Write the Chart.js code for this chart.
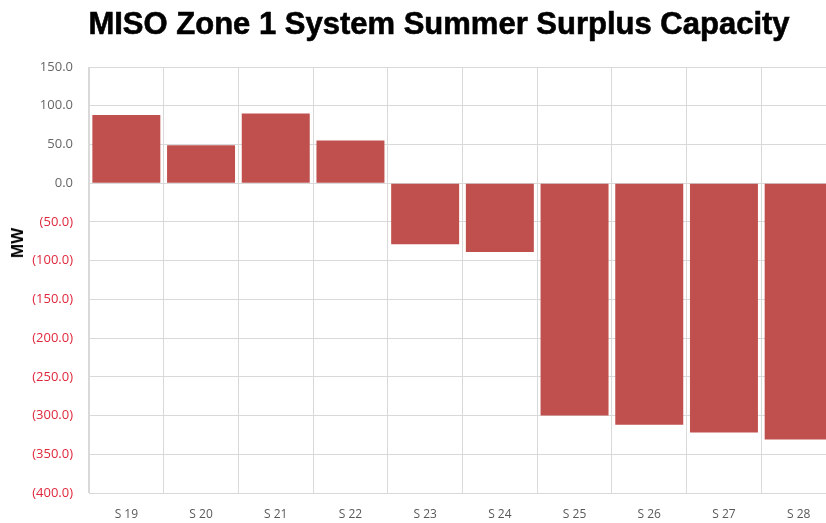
<!DOCTYPE html>
<html>
<head>
<meta charset="utf-8">
<script src="https://cdn.jsdelivr.net/npm/chart.js@4/dist/chart.umd.min.js"></script>
<style>
  html, body { margin: 0; padding: 0; background: #fff; overflow: hidden; }
  #wrap { position: relative; width: 880px; height: 523px; }
  #title {
    position: absolute; left: 0; top: 6px; width: 878px; text-align: center;
    font-family: "Liberation Sans", Arial, sans-serif; font-weight: bold; font-size: 31px; color: #000;
    -webkit-text-stroke: 0.6px #000;
  }
  #ylab {
    position: absolute; left: 18px; top: 243px; transform: translate(-50%, -50%) rotate(-90deg);
    font-family: "Liberation Sans", Arial, sans-serif; font-weight: bold; font-size: 17px; color: #000;
  }
</style>
</head>
<body>
<div id="wrap">
  <div id="title">MISO Zone 1 System Summer Surplus Capacity</div>
  <div id="ylab">MW</div>
  <canvas id="myChart" width="880" height="523"></canvas>
</div>
<script>
const seasons = ['S 19', 'S 20', 'S 21', 'S 22', 'S 23', 'S 24', 'S 25', 'S 26', 'S 27', 'S 28']
const surplus = [88, 49, 90, 55, -79, -89, -300, -312, -322, -331]
const yMin = -400
const yMax = 150
const yStep = 50

const fmt = v => v < 0 ? '(' + Math.abs(v).toFixed(1) + ')' : v.toFixed(1)

const ctx = document.getElementById('myChart').getContext('2d')
const myChart = new Chart(ctx, {
  type: 'bar',
  data: {
    labels: seasons,
    datasets: [{
      label: 'Surplus',
      data: surplus,
      backgroundColor: '#c0504d',
      categoryPercentage: 1,
      barPercentage: 0.91
    }]
  },
  options: {
    responsive: false,
    animation: false,
    layout: { padding: { top: 67, right: 44, left: 0, bottom: 0 } },
    plugins: {
      legend: { display: false },
      title: { display: false },
      tooltip: { enabled: false }
    },
    scales: {
      x: {
        grid: { color: '#d9d9d9', drawTicks: false },
        border: { color: '#d9d9d9' },
        ticks: { color: '#595959', font: { family: 'Open Sans', size: 12 }, padding: 14, maxRotation: 0 },
        afterFit: scale => { scale.height = 30 }
      },
      y: {
        min: yMin,
        max: yMax,
        grid: { color: '#d9d9d9', drawTicks: false },
        border: { color: '#d9d9d9' },
        ticks: {
          stepSize: yStep,
          padding: 16,
          font: { family: 'Open Sans', size: 13 },
          color: c => c.tick.value < 0 ? '#e0283c' : '#666666',
          callback: v => fmt(v)
        },
        afterFit: scale => { scale.width = 89 }
      }
    }
  }
})
</script>
</body>
</html>
